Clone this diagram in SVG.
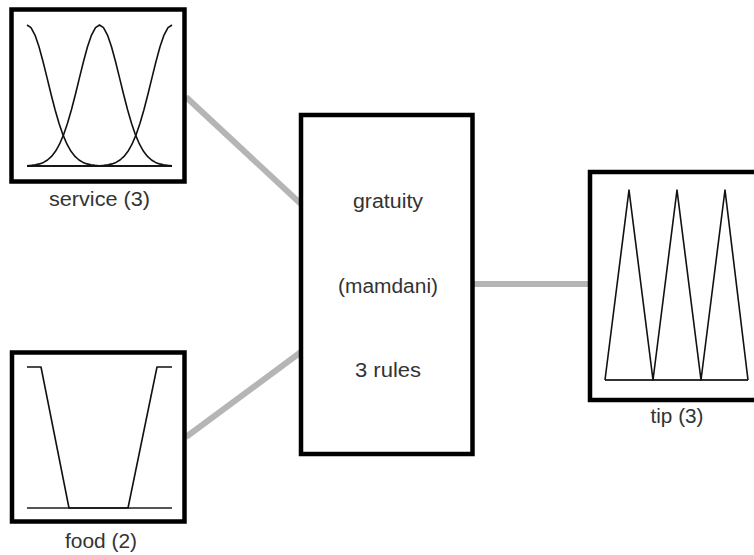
<svg xmlns="http://www.w3.org/2000/svg" width="754" height="555" viewBox="0 0 754 555">
<style>
.box{fill:#fff;stroke:#000;stroke-width:4.5}
.mf{fill:none;stroke:#111;stroke-width:1.6;stroke-linejoin:round}
.base{fill:none;stroke:#333;stroke-width:1.8}
.conn{stroke:#b5b5b5;stroke-width:6;fill:none}
text{font-family:"Liberation Sans",Arial,sans-serif;font-size:19.5px;fill:#333;text-anchor:middle}
</style>
<rect width="754" height="555" fill="#fff"/>
<g id="connectors">
<line class="conn" x1="186" y1="97" x2="301" y2="204"/>
<line class="conn" x1="186" y1="437" x2="301" y2="352"/>
<line class="conn" x1="473" y1="284" x2="590" y2="284"/>
</g>
<g id="service">
<rect class="box" x="11.5" y="9.5" width="173" height="172"/>
<line class="base" x1="27" y1="166" x2="172" y2="166"/>
<polyline class="mf" points="27,25 31,27.6 35,35.1 39,46.8 43,61.5 47,77.6 51,94 55,109.5 59,123.3 63,134.9 67,144.2 71,151.3 75,156.4 79,160 83,162.4 87,163.9 91,164.8 95,165.4 99,165.7 110,166 172,166"/>
<polyline class="mf" points="27,165.8 31.5,165.4 35.5,164.8 39.5,163.9 43.5,162.4 47.5,160 51.5,156.4 55.5,151.3 59.5,144.2 63.5,134.9 67.5,123.3 71.5,109.5 75.5,94 79.5,77.6 83.5,61.5 87.5,46.8 91.5,35.1 95.5,27.6 99.5,25 103.5,27.6 107.5,35.1 111.5,46.8 115.5,61.5 119.5,77.6 123.5,94 127.5,109.5 131.5,123.3 135.5,134.9 139.5,144.2 143.5,151.3 147.5,156.4 151.5,160 155.5,162.4 159.5,163.9 163.5,164.8 167.5,165.4 172,165.8"/>
<polyline class="mf" points="172,25 168,27.6 164,35.1 160,46.8 156,61.5 152,77.6 148,94 144,109.5 140,123.3 136,134.9 132,144.2 128,151.3 124,156.4 120,160 116,162.4 112,163.9 108,164.8 104,165.4 100,165.7 89,166 27,166"/>
<text x="99.5" y="206" textLength="101" lengthAdjust="spacingAndGlyphs">service (3)</text>
</g>
<g id="food">
<rect class="box" x="12" y="352.5" width="172.5" height="169"/>
<line class="base" x1="27" y1="508" x2="172" y2="508" style="stroke:#555"/>
<polyline class="mf" points="27,367 41,367 69,508 128,508 157,367 172,367"/>
<text x="101" y="548" textLength="72" lengthAdjust="spacingAndGlyphs">food (2)</text>
</g>
<g id="gratuity">
<rect class="box" x="301" y="115" width="171.5" height="339"/>
<text x="388" y="207.5" textLength="70" lengthAdjust="spacingAndGlyphs">gratuity</text>
<text x="388" y="292.5" textLength="100" lengthAdjust="spacingAndGlyphs">(mamdani)</text>
<text x="388" y="377" textLength="66" lengthAdjust="spacingAndGlyphs">3 rules</text>
</g>
<g id="tip">
<rect class="box" x="590" y="172" width="180" height="228"/>
<line class="base" x1="605" y1="380" x2="748" y2="380"/>
<polyline class="mf" points="605,380 629,190 653,380 677,190 701,380 725,190 748,380"/>
<text x="677" y="423" textLength="53" lengthAdjust="spacingAndGlyphs">tip (3)</text>
</g>
</svg>
